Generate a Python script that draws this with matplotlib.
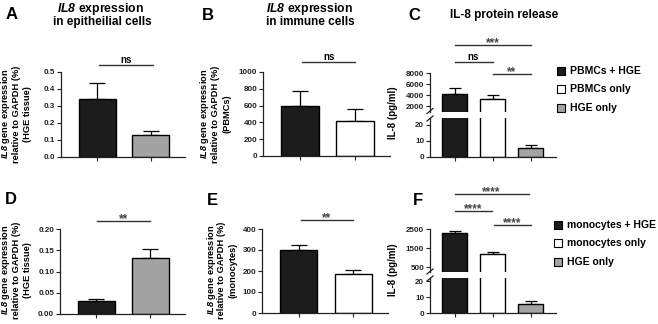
import numpy as np
import matplotlib
matplotlib.use('Agg')
import matplotlib.pyplot as plt
import matplotlib.transforms as mtransforms
from matplotlib.lines import Line2D
from matplotlib.patches import Rectangle

W, H = 658, 324

# values
a_vals = [0.34, 0.13]
a_err = [0.095, 0.022]
b_vals = [590, 420]
b_err = [180, 140]
c_vals = [4150, 3230, 5.6]
c_err = [1100, 730, 1.5]
d_vals = [0.030, 0.132]
d_err = [0.005, 0.020]
e_vals = [300, 185]
e_err = [22, 20]
f_vals = [2280, 1180, 5.7]
f_err = [100, 110, 2.1]

c_labels = ['PBMCs + HGE', 'PBMCs only', 'HGE only']
f_labels = ['monocytes + HGE', 'monocytes only', 'HGE only']

BLACK = '#1c1c1c'
GREY = '#a3a3a3'
WHITE = 'white'

plt.rcParams['font.family'] = 'Liberation Sans'
plt.rcParams['font.weight'] = 'bold'
plt.rcParams['mathtext.fontset'] = 'custom'
plt.rcParams['mathtext.rm'] = 'Liberation Sans:bold'
plt.rcParams['mathtext.it'] = 'Liberation Sans:italic:bold'
# sf slot used for the italic gene name so the digit stays italic too
plt.rcParams['mathtext.sf'] = 'Liberation Sans:italic:bold'
plt.rcParams['axes.linewidth'] = 0.9
plt.rcParams['axes.edgecolor'] = '#222222'

fig = plt.figure(figsize=(W / 100, H / 100), dpi=100)


def box(x0, x1, ytop, ybot):
    return [x0 / W, 1 - ybot / H, (x1 - x0) / W, (ybot - ytop) / H]


def ftext(x, y, s, **kw):
    fig.text(x / W, 1 - y / H, s, **kw)


def make_ax(rect, xlim, ylim, yticks, bottom=True):
    ax = fig.add_axes(rect)
    ax.spines['top'].set_visible(False)
    ax.spines['right'].set_visible(False)
    ax.set_xlim(*xlim)
    ax.set_ylim(*ylim)
    ax.set_yticks(yticks)
    ax.tick_params(axis='both', length=3, width=0.8, labelsize=5.8, pad=1.2,
                   colors='#222222')
    ax.tick_params(axis='x', labelbottom=False)
    if not bottom:
        ax.spines['bottom'].set_visible(False)
        ax.tick_params(axis='x', bottom=False)
    return ax


def bars(ax, vals, errs, colors, width, capsize):
    x = np.arange(len(vals))
    ax.bar(x, vals, width=width, color=colors, edgecolor='black',
           linewidth=1.0, zorder=2)
    ax.errorbar(x, vals, yerr=[np.zeros(len(vals)), errs], fmt='none',
                ecolor='black', elinewidth=0.9, capsize=capsize,
                capthick=0.9, zorder=1)
    ax.set_xticks(x)


def sig(ax, x0, x1, ypx, label, star=False):
    tr = mtransforms.blended_transform_factory(ax.transData, fig.transFigure)
    ax.plot([x0, x1], [1 - ypx / H] * 2, transform=tr, color='#333333',
            lw=1.0, clip_on=False)
    if star:
        ax.text((x0 + x1) / 2, 1 - (ypx + 1) / H, label, transform=tr,
                ha='center', va='baseline', fontsize=8.5, color='#444444')
    else:
        ax.text((x0 + x1) / 2, 1 - (ypx - 2) / H, label, transform=tr,
                ha='center', va='baseline', fontsize=7)


def vlabel(xs, yc, lines, fs=6.7):
    for x, s in zip(xs, lines):
        ftext(x, yc, s, rotation=90, ha='center', va='center', fontsize=fs)


def broken_mark(x, y):
    fig.add_artist(Line2D([(x - 3) / W, (x + 3) / W],
                          [1 - (y + 2.5) / H, 1 - (y - 2.5) / H],
                          color='#222222', lw=0.9))


def legend(x, rows, labels, colors):
    for y, lab, col in zip(rows, labels, colors):
        fig.add_artist(Rectangle((x / W, 1 - (y + 4) / H), 8 / W, 8 / H,
                                 facecolor=col, edgecolor='black', lw=0.8))
        ftext(x + 13, y, lab, ha='left', va='center', fontsize=7.5)


xl2 = (-0.676, 1.64)
w2 = 0.685
xl3 = (-0.645, 2.67)
w3 = 0.66

# panel A
ax = make_ax(box(61, 185, 72, 157), xl2, (0, 0.5), np.arange(0, 0.51, 0.1))
ax.set_yticklabels(['%.1f' % v for v in np.arange(0, 0.51, 0.1)])
bars(ax, a_vals, a_err, [BLACK, GREY], w2, 5.8)
sig(ax, 0.04, 1.04, 65, 'ns')

# panel B
ax = make_ax(box(263, 390, 72, 156), xl2, (0, 1000), np.arange(0, 1001, 200))
bars(ax, b_vals, b_err, [BLACK, WHITE], w2, 5.8)
sig(ax, 0.04, 1.0, 62, 'ns')

# panel D
ax = make_ax(box(60, 185, 229, 314), xl2, (0, 0.2), np.arange(0, 0.201, 0.05))
ax.set_yticklabels(['%.2f' % v for v in np.arange(0, 0.201, 0.05)])
bars(ax, d_vals, d_err, [BLACK, GREY], w2, 5.8)
sig(ax, 0.01, 1.0, 221, '**', star=True)

# panel E
ax = make_ax(box(262, 388, 229, 313), xl2, (0, 400), np.arange(0, 401, 100))
bars(ax, e_vals, e_err, [BLACK, WHITE], w2, 5.8)
sig(ax, 0.04, 1.0, 220, '**', star=True)

# panel C (broken axis)
c_cols = [BLACK, WHITE, GREY]
lo = make_ax(box(430, 556, 118.3, 156.7), xl3, (0, 24), [0, 10, 20])
bars(lo, c_vals, c_err, c_cols, w3, 4.3)
up = make_ax(box(430, 556, 73.3, 111.5), xl3, (1000, 8000),
             [2000, 4000, 6000, 8000], bottom=False)
bars(up, c_vals, c_err, c_cols, w3, 4.3)
broken_mark(430, 111)
broken_mark(430, 118.5)
sig(up, 0.0, 2.0, 45, '***', star=True)
sig(up, 0.0, 1.0, 62, 'ns')
sig(up, 1.02, 2.0, 74, '**', star=True)
legend(557, [70.5, 89, 108], c_labels, c_cols)

# panel F (broken axis)
lo = make_ax(box(430, 556, 278.3, 313.3), xl3, (0, 22), [0, 10, 20])
bars(lo, f_vals, f_err, c_cols, w3, 4.3)
up = make_ax(box(430, 556, 229, 271.6), xl3, (280, 2500),
             [500, 1500, 2500], bottom=False)
bars(up, f_vals, f_err, c_cols, w3, 4.3)
broken_mark(430, 271.5)
broken_mark(430, 278.5)
sig(up, 0.0, 1.95, 194, '****', star=True)
sig(up, 0.0, 0.98, 211, '****', star=True)
sig(up, 1.04, 2.0, 225, '****', star=True)
legend(554, [225, 243, 262], f_labels, c_cols)

# y labels
gl = r'$\mathsf{IL8}$ gene expression'
rl = 'relative to GAPDH (%)'
vlabel([6, 16.5, 27], 114, [gl, rl, '(HGE tissue)'])
vlabel([205, 215.5, 227], 114, [gl, rl, '(PBMCs)'])
vlabel([6, 16.5, 27.5], 270, [gl, rl, '(HGE tissue)'])
vlabel([211.5, 222, 232.5], 270, [gl, rl, '(monocytes)'])
vlabel([393], 113, ['IL-8 (pg/ml)'], fs=7)
vlabel([393], 270, ['IL-8 (pg/ml)'], fs=7)

# titles
ftext(101, 12, r'$\mathsf{IL8}$ expression', ha='center', va='baseline', fontsize=8.8)
ftext(102, 25, 'in epitheilial cells', ha='center', va='baseline', fontsize=8.5)
ftext(310, 12, r'$\mathsf{IL8}$ expression', ha='center', va='baseline', fontsize=8.8)
ftext(310, 25, 'in immune cells', ha='center', va='baseline', fontsize=8.5)
ftext(504, 18, 'IL-8 protein release', ha='center', va='baseline', fontsize=8.5)

# panel letters
for lx, ly, lt in [(12, 19, 'A'), (208, 20, 'B'), (414, 20, 'C'),
                   (11, 204, 'D'), (212, 205, 'E'), (418, 205, 'F')]:
    ftext(lx, ly, lt, ha='center', va='baseline', fontsize=12)

fig.savefig('out.png', dpi=100)
